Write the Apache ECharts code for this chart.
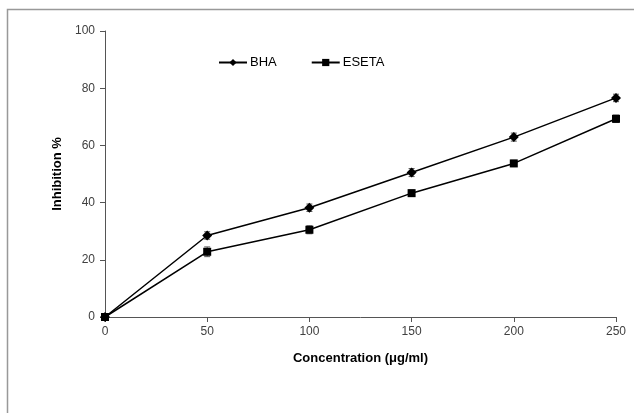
<!DOCTYPE html>
<html><head><meta charset="utf-8">
<script src="https://cdn.jsdelivr.net/npm/echarts@6/dist/echarts.min.js"></script>
<style>html,body{margin:0;padding:0;background:#fff}#c{width:634px;height:413px}</style>
</head><body><div id="c"></div>
<script>
const concentrations = [0, 50, 100, 150, 200, 250];
const bhaValues = [0, 28.5, 38.2, 50.5, 62.9, 76.6];
const bhaErrors = [0, 1.3, 1.3, 1.4, 1.4, 1.3];
const esetaValues = [0, 22.8, 30.5, 43.3, 53.7, 69.3];
const esetaErrors = [0, 1.7, 1.4, 1.1, 1.1, 1.3];
const seriesNames = ['BHA', 'ESETA'];

const chart = echarts.init(document.getElementById('c'));
function errData(vals, errs){ return concentrations.map((x,i)=>[x, vals[i], errs[i]]); }
function errRender(params, api){
  const x = api.value(0), y = api.value(1), e = api.value(2);
  const top = api.coord([x, y + e]), bot = api.coord([x, y - e]);
  const w = 3;
  const st = {stroke:'#555', lineWidth:1};
  return {type:'group', children:[
    {type:'line', shape:{x1:top[0],y1:top[1],x2:bot[0],y2:bot[1]}, style:st},
    {type:'line', shape:{x1:top[0]-w,y1:top[1],x2:top[0]+w,y2:top[1]}, style:st},
    {type:'line', shape:{x1:bot[0]-w,y1:bot[1],x2:bot[0]+w,y2:bot[1]}, style:st}
  ]};
}
const labelFont = {fontFamily:'Liberation Sans, Arial', fontSize:12, color:'#404040'};
chart.setOption({
  animation:false,
  graphic:[{type:'rect', shape:{x:7.5,y:9.5,width:700,height:500}, style:{fill:'none', stroke:'#999', lineWidth:1.5}, silent:true}],
  grid:{left:105, right:18, top:31, bottom:96},
  legend:{left:213, top:51, itemWidth:28, itemHeight:9, itemGap:34,
    textStyle:{fontFamily:'Liberation Sans, Arial', fontSize:13, color:'#000', padding:[0,0,0,-2]},
    data:seriesNames},
  xAxis:{type:'value', min:0, max:250, interval:50,
    name:'Concentration (μg/ml)', nameLocation:'middle', nameGap:35,
    nameTextStyle:{fontFamily:'Liberation Sans, Arial', fontSize:13, fontWeight:'bold', color:'#000'},
    axisLine:{lineStyle:{color:'#555', width:1}}, axisTick:{show:true, length:5, lineStyle:{color:'#555'}},
    axisLabel:Object.assign({margin:9}, labelFont), splitLine:{show:false}},
  yAxis:{type:'value', min:0, max:100, interval:20,
    name:'Inhibition %', nameLocation:'middle', nameGap:38,
    nameTextStyle:{fontFamily:'Liberation Sans, Arial', fontSize:13, fontWeight:'bold', color:'#000'},
    axisLine:{show:true, lineStyle:{color:'#555', width:1}}, axisTick:{show:true, length:5, lineStyle:{color:'#555'}},
    axisLabel:Object.assign({margin:10}, labelFont), splitLine:{show:false}},
  series:[
    {type:'custom', renderItem:errRender, data:errData(bhaValues,bhaErrors), z:1, silent:true},
    {type:'custom', renderItem:errRender, data:errData(esetaValues,esetaErrors), z:1, silent:true},
    {name:'BHA', type:'line', data:concentrations.map((x,i)=>[x,bhaValues[i]]), symbol:'diamond', symbolSize:10,
      lineStyle:{color:'#000', width:1.5}, itemStyle:{color:'#000'}, z:3},
    {name:'ESETA', type:'line', data:concentrations.map((x,i)=>[x,esetaValues[i]]), symbol:'rect', symbolSize:8,
      lineStyle:{color:'#000', width:1.5}, itemStyle:{color:'#000'}, z:3}
  ]
});
</script></body></html>
